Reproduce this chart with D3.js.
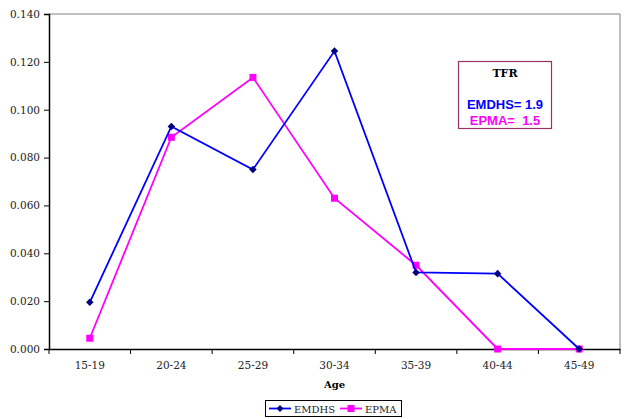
<!DOCTYPE html>
<html>
<head>
<meta charset="utf-8">
<script src="https://cdn.jsdelivr.net/npm/d3@7"></script>
<style>
  body { margin: 0; background: #fff; }
  text { font-family: "DejaVu Serif", serif; }
</style>
</head>
<body>
<script>
(function() {

    var width = 624,
        height = 419;

    // data
    var ages = ["15-19", "20-24", "25-29", "30-34", "35-39", "40-44", "45-49"];
    var emdhs = [0.0195, 0.093, 0.075, 0.1245, 0.032, 0.0315, 0.000];
    var epma = [0.0045, 0.0885, 0.1135, 0.063, 0.035, 0.000, 0.000];
    var yTicks = [0, 0.02, 0.04, 0.06, 0.08, 0.10, 0.12, 0.14];

    // colors
    var emdhsLine = "#0000ff",
        emdhsMark = "#000080",
        epmaColor = "#ff00ff",
        frameColor = "#808080";

    var left = 49, right = 620, top = 14, bottom = 349;

    var svg = d3.select("body").append("svg")
        .attr("width", width)
        .attr("height", height);

    var x = d3.scaleBand().domain(ages).range([left, right]);
    var y = d3.scaleLinear().domain([0, 0.14]).range([bottom, top]);

    // gray frame on top and right
    svg.append("path")
        .attr("d", "M" + left + "," + top + "H" + right + "V" + bottom)
        .attr("fill", "none")
        .attr("stroke", frameColor);

    // y axis
    var yAxis = svg.append("g")
        .attr("transform", "translate(" + left + ",0)")
        .call(d3.axisLeft(y).tickValues(yTicks).tickFormat(d3.format(".3f")).tickSize(5).tickPadding(4));
    yAxis.select(".domain").attr("stroke", "#000").attr("stroke-width", 1.5);
    yAxis.selectAll("text").style("font-size", "10.5px").attr("fill", "#222");

    // x axis, ticks between categories
    var xAxis = svg.append("g")
        .attr("transform", "translate(0," + bottom + ")")
        .call(d3.axisBottom(x).tickSize(0).tickPadding(13));
    xAxis.select(".domain").attr("stroke", "#000").attr("stroke-width", 1.5);
    xAxis.selectAll("text").style("font-size", "10.5px").attr("fill", "#222");
    xAxis.selectAll(".sep")
        .data(ages.concat([null]))
        .enter()
        .append("line")
        .attr("x1", function(d, i) { return left + x.step() * i; })
        .attr("x2", function(d, i) { return left + x.step() * i; })
        .attr("y1", 0)
        .attr("y2", 5)
        .attr("stroke", "#000");

    svg.append("text")
        .attr("x", (left + right) / 2)
        .attr("y", 388)
        .attr("text-anchor", "middle")
        .style("font-size", "10px")
        .attr("font-weight", "bold")
        .text("Age");

    var line = d3.line()
        .x(function(d, i) { return x(ages[i]) + x.bandwidth() / 2; })
        .y(function(d) { return y(d); });

    // EPMA
    svg.append("path")
        .datum(epma)
        .attr("d", line)
        .attr("fill", "none")
        .attr("stroke", epmaColor)
        .attr("stroke-width", 1.8);
    svg.selectAll(".epma")
        .data(epma)
        .enter()
        .append("rect")
        .attr("class", "epma")
        .attr("x", function(d, i) { return x(ages[i]) + x.bandwidth() / 2 - 3.5; })
        .attr("y", function(d) { return y(d) - 3.5; })
        .attr("width", 7)
        .attr("height", 7)
        .attr("fill", epmaColor);

    // EMDHS
    svg.append("path")
        .datum(emdhs)
        .attr("d", line)
        .attr("fill", "none")
        .attr("stroke", emdhsLine)
        .attr("stroke-width", 1.8);
    svg.selectAll(".emdhs")
        .data(emdhs)
        .enter()
        .append("path")
        .attr("class", "emdhs")
        .attr("d", d3.symbol(d3.symbolDiamond2, 36))
        .attr("transform", function(d, i) {
            return "translate(" + (x(ages[i]) + x.bandwidth() / 2) + "," + y(d) + ")";
        })
        .attr("fill", emdhsMark);

    // TFR box
    svg.append("rect")
        .attr("x", 458.5).attr("y", 61.5)
        .attr("width", 93).attr("height", 67)
        .attr("fill", "#fff")
        .attr("stroke", "#993366")
        .attr("stroke-width", 1.2);
    svg.append("text")
        .attr("x", 505).attr("y", 77)
        .attr("text-anchor", "middle")
        .style("font-size", "11px").attr("font-weight", "bold")
        .text("TFR");
    svg.append("text")
        .attr("x", 505).attr("y", 109)
        .attr("text-anchor", "middle")
        .style("font-family", "'Liberation Sans', Arial, sans-serif")
        .style("font-size", "13px").attr("font-weight", "bold")
        .attr("fill", "#0000ff")
        .text("EMDHS= 1.9");
    svg.append("text")
        .attr("x", 505).attr("y", 125)
        .attr("text-anchor", "middle")
        .style("font-family", "'Liberation Sans', Arial, sans-serif")
        .style("font-size", "13px").attr("font-weight", "bold")
        .style("white-space", "pre")
        .attr("fill", "#ff00ff")
        .text("EPMA=  1.5");

    // legend
    var lg = svg.append("g");
    lg.append("rect")
        .attr("x", 265.5).attr("y", 400.5)
        .attr("width", 136).attr("height", 16)
        .attr("fill", "#fff")
        .attr("stroke", "#000");
    lg.append("line")
        .attr("x1", 269).attr("x2", 291).attr("y1", 408.5).attr("y2", 408.5)
        .attr("stroke", emdhsLine).attr("stroke-width", 1.8);
    lg.append("path")
        .attr("d", d3.symbol(d3.symbolDiamond2, 30))
        .attr("transform", "translate(280,408.5)")
        .attr("fill", emdhsMark);
    lg.append("text")
        .attr("x", 294).attr("y", 412.5)
        .style("font-size", "10px")
        .attr("fill", "#222")
        .text("EMDHS");
    lg.append("line")
        .attr("x1", 340).attr("x2", 362).attr("y1", 408.5).attr("y2", 408.5)
        .attr("stroke", epmaColor).attr("stroke-width", 1.8);
    lg.append("rect")
        .attr("x", 347.5).attr("y", 405)
        .attr("width", 7).attr("height", 7)
        .attr("fill", epmaColor);
    lg.append("text")
        .attr("x", 365).attr("y", 412.5)
        .style("font-size", "10px")
        .attr("fill", "#222")
        .text("EPMA");

})();
</script>
</body>
</html>
